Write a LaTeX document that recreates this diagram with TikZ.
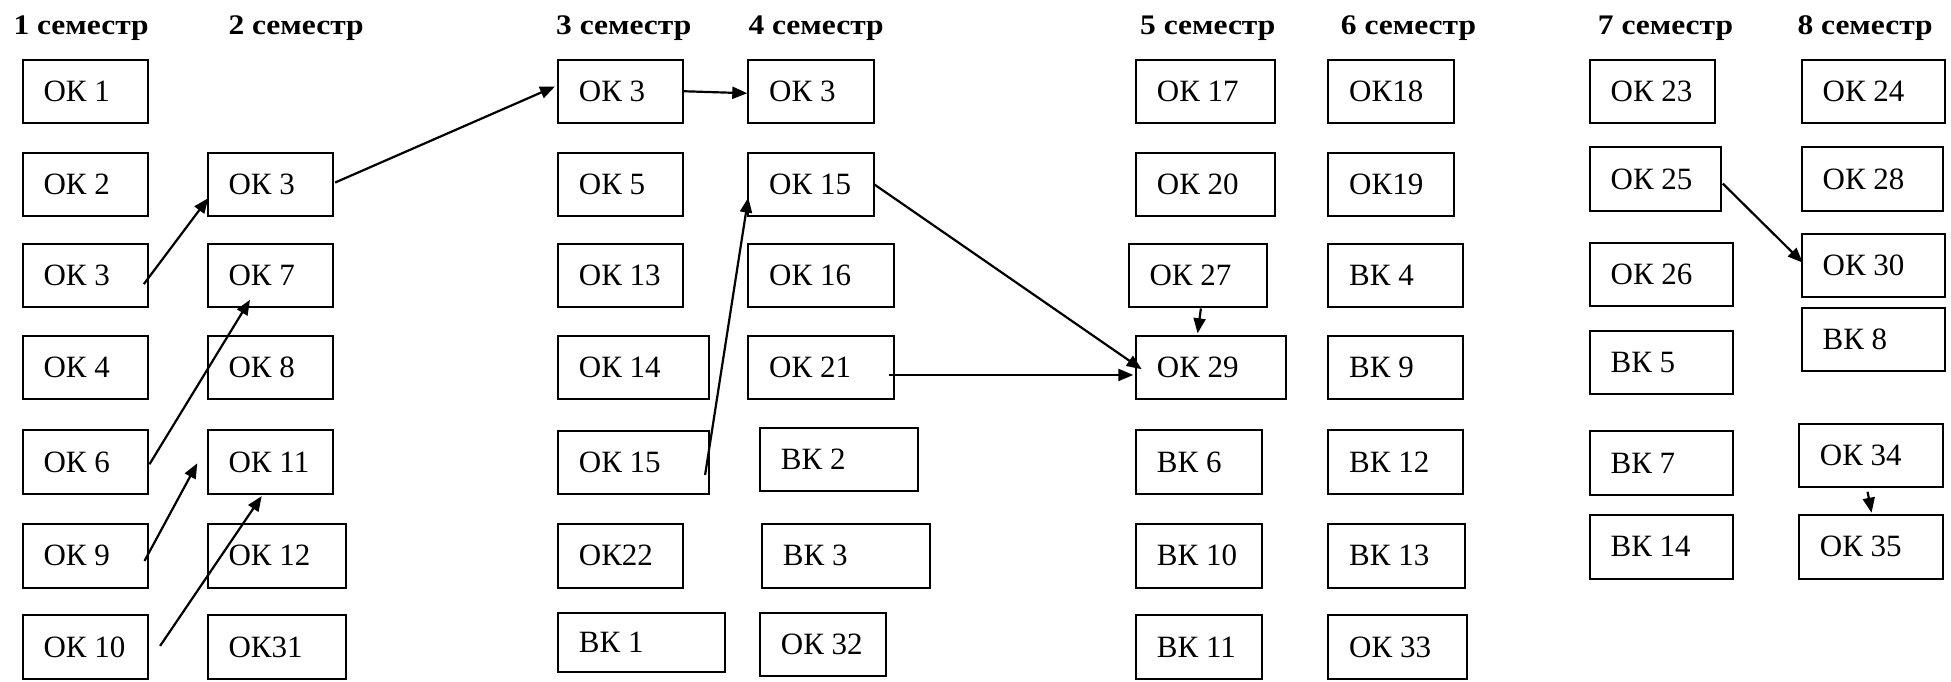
\documentclass[tikz,border=0pt]{standalone}
\usepackage{fontspec}
\usepackage{graphicx}
\setmainfont{Liberation Serif}
\usetikzlibrary{arrows.meta,calc}
\tikzset{
  cbox/.style={draw=black, line width=1.8pt, inner xsep=21pt, inner ysep=0pt, anchor=north west, font=\fontsize{31}{36}\selectfont},
  hdr/.style={anchor=base west, inner sep=0pt, font=\fontsize{31.5}{36}\selectfont\bfseries},
  arr/.style={line width=2.2pt, -{Triangle[length=15pt,width=12pt]}},
}
\newcommand\semb[6]{%
  \pgfmathsetmacro\semw{#4-#2-42}%
  \pgfmathsetmacro\semh{#5-#3}%
  \node[cbox, minimum height=\semh pt] (#1) at (#2,#3) {\makebox[\semw pt][l]{#6}};%
}
\newcommand\semh[1]{\scalebox{1}[0.9]{#1}}
\begin{document}
\begin{tikzpicture}[x=1pt,y=-1pt]
\useasboundingbox[fill=white] (0,0) rectangle (1951,681);
% headers
\node[hdr] (h1) at (13.3,34.3) {\semh{1 семестр}};
\node[hdr] (h2) at (228.3,34.3) {\semh{2 семестр}};
\node[hdr] (h3) at (556,34.3) {\semh{3 семестр}};
\node[hdr] (h4) at (748.3,34.3) {\semh{4 семестр}};
\node[hdr] (h5) at (1140,34.3) {\semh{5 семестр}};
\node[hdr] (h6) at (1340.7,34.3) {\semh{6 семестр}};
\node[hdr] (h7) at (1597.7,34.3) {\semh{7 семестр}};
\node[hdr] (h8) at (1797.3,34.3) {\semh{8 семестр}};
% column 1
\semb{c1a}{21.7}{58.7}{147}{122}{ОК 1}
\semb{c1b}{21.7}{152}{147}{215.3}{ОК 2}
\semb{c1c}{21.7}{243.3}{147}{306}{ОК 3}
\semb{c1d}{21.7}{334.7}{147}{398}{ОК 4}
\semb{c1e}{21.7}{429.3}{147}{493.3}{ОК 6}
\semb{c1f}{21.7}{522.7}{147}{586.7}{ОК 9}
\semb{c1g}{21.7}{614}{147}{678}{ОК 10}
% column 2
\semb{c2b}{206.7}{152}{332.3}{215.3}{ОК 3}
\semb{c2c}{206.7}{243.3}{332.3}{306}{ОК 7}
\semb{c2d}{206.7}{334.7}{332.3}{398}{ОК 8}
\semb{c2e}{206.7}{429.3}{332.3}{493.3}{ОК 11}
\semb{c2f}{206.7}{522.7}{345.3}{586.7}{ОК 12}
\semb{c2g}{206.7}{614}{345.3}{678}{ОК31}
% column 3
\semb{c3a}{557}{58.7}{682.3}{122}{ОК 3}
\semb{c3b}{557}{152}{682.3}{215.3}{ОК 5}
\semb{c3c}{557}{243.3}{682.3}{306}{ОК 13}
\semb{c3d}{557}{334.7}{708.3}{398}{ОК 14}
\semb{c3e}{557}{429.7}{708.3}{493.3}{ОК 15}
\semb{c3f}{557}{522.7}{682.3}{586.7}{ОК22}
\semb{c3g}{557}{612}{724}{671.3}{ВК 1}
% column 4
\semb{c4a}{747.3}{58.7}{872.7}{122}{ОК 3}
\semb{c4b}{747.3}{152}{872.7}{215.3}{ОК 15}
\semb{c4c}{747.3}{243.3}{893.3}{306}{ОК 16}
\semb{c4d}{747.3}{334.7}{893.3}{398}{ОК 21}
\semb{c4e}{759}{426.7}{916.7}{490}{ВК 2}
\semb{c4f}{761}{522.7}{928.7}{586.7}{ВК 3}
\semb{c4g}{759}{612}{884.7}{675.3}{ОК 32}
% column 5
\semb{c5a}{1135}{58.7}{1273.7}{122}{ОК 17}
\semb{c5b}{1135}{152}{1273.7}{215.3}{ОК 20}
\semb{c5c}{1127.7}{243.3}{1265.7}{306}{ОК 27}
\semb{c5d}{1135}{334.7}{1285}{398}{ОК 29}
\semb{c5e}{1135}{429.3}{1261}{493.3}{ВК 6}
\semb{c5f}{1135}{522.7}{1261}{586.7}{ВК 10}
\semb{c5g}{1135}{614}{1261}{678}{ВК 11}
% column 6
\semb{c6a}{1327.3}{58.7}{1452.7}{122}{ОК18}
\semb{c6b}{1327.3}{152}{1452.7}{215.3}{ОК19}
\semb{c6c}{1327.3}{243.3}{1462}{306}{ВК 4}
\semb{c6d}{1327.3}{334.7}{1462}{398}{ВК 9}
\semb{c6e}{1327.3}{429.3}{1462}{493.3}{ВК 12}
\semb{c6f}{1327.3}{522.7}{1464.3}{586.7}{ВК 13}
\semb{c6g}{1327.3}{614}{1466}{678}{ОК 33}
% column 7
\semb{c7a}{1588.7}{58.7}{1714.3}{122}{ОК 23}
\semb{c7b}{1588.7}{146}{1719.7}{210}{ОК 25}
\semb{c7c}{1588.7}{241.7}{1732.3}{305.3}{ОК 26}
\semb{c7d}{1588.7}{330}{1732.3}{393.3}{ВК 5}
\semb{c7e}{1588.7}{430}{1732.3}{494}{ВК 7}
\semb{c7f}{1588.7}{513.7}{1732.3}{577.7}{ВК 14}
% column 8
\semb{c8a}{1800.7}{58.7}{1944.3}{122}{ОК 24}
\semb{c8b}{1800.7}{146}{1941.7}{210}{ОК 28}
\semb{c8c}{1800.7}{232.7}{1944.3}{295.7}{ОК 30}
\semb{c8d}{1800.7}{306.7}{1944.3}{370}{ВК 8}
\semb{c8e}{1798}{422.7}{1941.7}{486}{ОК 34}
\semb{c8f}{1798}{513.7}{1941.7}{577.7}{ОК 35}
% arrows
\draw[arr] ($(c1c.east)+(-5,8.6)$) -- ($(c2b.south west)+(1.6,-19)$);
\draw[arr] ($(c1e.east)+(0.7,2)$) -- ($(c2c.south west)+(43.3,-8)$);
\draw[arr] ($(c1f.east)+(-4.3,5.3)$) -- ($(c2e.west)+(-9.4,1)$);
\draw[arr] ($(c1g.east)+(11.3,-1)$) -- ($(c2e.south west)+(55,1)$);
\draw[arr] ($(c2b.east)+(1,-2)$) -- ($(c3a.west)+(-2,-4.8)$);
\draw[arr] (c3a.east) -- ($(c4a.west)+(0,2)$);
\draw[arr] ($(c3e.east)+(-5,12.5)$) -- ($(c4b.west)+(1,13)$);
\draw[arr] (c4b.east) -- ($(c5d.west)+(6.7,2)$);
\draw[arr] ($(c4d.east)+(-6.6,7.7)$) -- ($(c5d.west)+(-1.7,7.7)$);
\draw[arr] ($(c5c.south)+(3.3,0.7)$) -- ($(c5d.north)+(-13.3,-1.4)$);
\draw[arr] ($(c7b.east)+(1.3,4.7)$) -- ($(c8c.west)+(2,-2.5)$);
\draw[arr] ($(c8e.south)+(-3.2,4)$) -- ($(c8f.north)+(0.8,-1)$);
\end{tikzpicture}
\end{document}
